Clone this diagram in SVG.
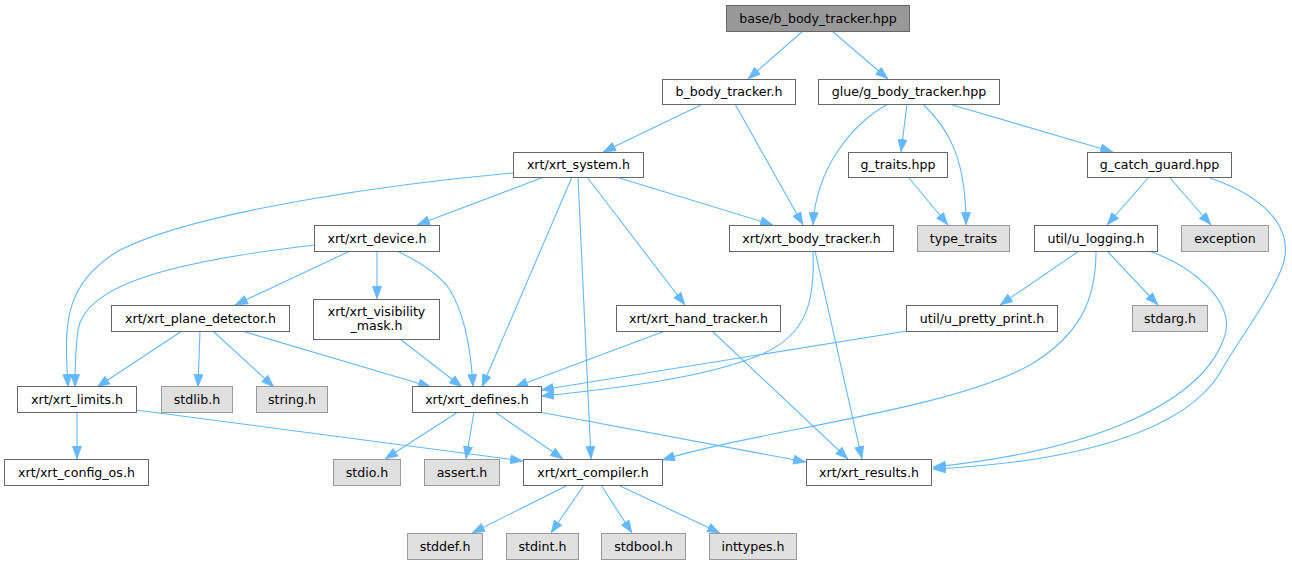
<svg xmlns="http://www.w3.org/2000/svg" width="1292" height="564" viewBox="0 0 1292 564">
<style>
.n rect{fill:#ffffff;stroke:#666666;stroke-width:1}
.s rect{fill:#e0e0e0;stroke:#999999;stroke-width:1}
.r rect{fill:#999999;stroke:#666666;stroke-width:1}
text{font-family:"DejaVu Sans",sans-serif;font-size:12.6px;fill:#000;text-anchor:middle}
#edges path{fill:none;stroke:#63b8ff;stroke-width:1.1;marker-end:url(#ah)}
</style>
<defs>
<marker id="ah" markerUnits="userSpaceOnUse" markerWidth="13" markerHeight="10" viewBox="0 0 13 10" refX="13" refY="5" orient="auto">
<path d="M0.5,0.5 L12.5,5 L0.5,9.5 z" fill="#63b8ff" stroke="#63b8ff" stroke-width="0.8"/>
</marker>
</defs>
<rect width="1292" height="564" fill="#ffffff"/>
<g id="edges">
<path d="M803,31 L748,79"/>
<path d="M832,31 L888,79"/>
<path d="M703,104 L603,152"/>
<path d="M735,104 L803,225"/>
<path d="M888,104 C850,125 816,170 813,225"/>
<path d="M907,104 L901,152"/>
<path d="M923,104 C950,130 966,160 966,225"/>
<path d="M949,104 L1113,152"/>
<path d="M513,173 C400,183 200,210 120,250 C60,285 65,330 68,387"/>
<path d="M544,177 L417,225"/>
<path d="M572,177 L482,387"/>
<path d="M578,177 L591,459"/>
<path d="M587,177 L685,305"/>
<path d="M616,177 L773,225"/>
<path d="M314,245 C170,262 85,285 78,330 C76,345 75,365 75,387"/>
<path d="M350,251 L235,305"/>
<path d="M377,251 L377,299"/>
<path d="M397,251 C420,262 440,275 450,290 C465,315 471,350 473,387"/>
<path d="M182,331 L97,387"/>
<path d="M200,331 L198,387"/>
<path d="M213,331 L274,387"/>
<path d="M242,331 L431,387"/>
<path d="M400,339 L462,387"/>
<path d="M665,331 L515,387"/>
<path d="M712,331 L848,459"/>
<path d="M813,251 C815,300 808,335 760,355 C700,380 600,390 541,396"/>
<path d="M815,251 L862,459"/>
<path d="M907,331 L541,390"/>
<path d="M1079,251 L1000,305"/>
<path d="M1107,251 L1158,305"/>
<path d="M1096,251 C1096,300 1080,335 1030,365 C950,410 760,430 662,460"/>
<path d="M1149,251 C1190,265 1235,300 1225,335 C1205,400 1100,450 933,467"/>
<path d="M1148,178 L1107,225"/>
<path d="M1170,178 L1211,225"/>
<path d="M1210,178 C1260,195 1295,225 1283,265 C1270,300 1235,345 1220,373 C1185,430 1080,462 933,469"/>
<path d="M909,178 L948,225"/>
<path d="M458,412 L385,459"/>
<path d="M474,412 L466,459"/>
<path d="M495,412 L563,459"/>
<path d="M539,412 L806,462"/>
<path d="M136,410 L523,461"/>
<path d="M77,412 L77,459"/>
<path d="M568,485 L472,533"/>
<path d="M584,485 L551,533"/>
<path d="M601,485 L632,533"/>
<path d="M618,485 L720,533"/>
</g>
<g id="node1" class="r"><rect x="726.5" y="5.5" width="183" height="26"/><text x="818" y="22.5">base/b_body_tracker.hpp</text></g>
<g id="node2" class="n"><rect x="662.5" y="79.5" width="133" height="25"/><text x="729" y="96">b_body_tracker.h</text></g>
<g id="node3" class="n"><rect x="818.5" y="79.5" width="181" height="25"/><text x="909" y="96">glue/g_body_tracker.hpp</text></g>
<g id="node4" class="n"><rect x="513.5" y="152.5" width="130" height="25"/><text x="578.5" y="169">xrt/xrt_system.h</text></g>
<g id="node5" class="n"><rect x="848.5" y="152.5" width="99" height="25"/><text x="898" y="169">g_traits.hpp</text></g>
<g id="node6" class="n"><rect x="1087.5" y="152.5" width="144" height="25"/><text x="1159.5" y="169">g_catch_guard.hpp</text></g>
<g id="node7" class="n"><rect x="314.5" y="225.5" width="125" height="26"/><text x="377" y="242.5">xrt/xrt_device.h</text></g>
<g id="node8" class="n"><rect x="729.5" y="225.5" width="164" height="26"/><text x="811.5" y="242.5">xrt/xrt_body_tracker.h</text></g>
<g id="node9" class="s"><rect x="917.5" y="225.5" width="92" height="26"/><text x="963.5" y="242.5">type_traits</text></g>
<g id="node10" class="n"><rect x="1034.5" y="225.5" width="123" height="26"/><text x="1096" y="242.5">util/u_logging.h</text></g>
<g id="node11" class="s"><rect x="1181.5" y="225.5" width="87" height="26"/><text x="1225" y="242.5">exception</text></g>
<g id="node12" class="n"><rect x="111.5" y="305.5" width="178" height="26"/><text x="200.5" y="322.5">xrt/xrt_plane_detector.h</text></g>
<g id="node13" class="n"><rect x="313.5" y="299.5" width="126" height="40"/><text x="376.5" y="315.5">xrt/xrt_visibility</text><text x="376.5" y="329.5">_mask.h</text></g>
<g id="node14" class="n"><rect x="616.5" y="305.5" width="164" height="26"/><text x="698.5" y="322.5">xrt/xrt_hand_tracker.h</text></g>
<g id="node15" class="n"><rect x="906.5" y="305.5" width="151" height="26"/><text x="982" y="322.5">util/u_pretty_print.h</text></g>
<g id="node16" class="s"><rect x="1132.5" y="305.5" width="75" height="26"/><text x="1170" y="322.5">stdarg.h</text></g>
<g id="node17" class="n"><rect x="17.5" y="386.5" width="119" height="26"/><text x="77" y="403.5">xrt/xrt_limits.h</text></g>
<g id="node18" class="s"><rect x="161.5" y="386.5" width="71" height="26"/><text x="197" y="403.5">stdlib.h</text></g>
<g id="node19" class="s"><rect x="256.5" y="386.5" width="71" height="26"/><text x="292" y="403.5">string.h</text></g>
<g id="node20" class="n"><rect x="412.5" y="386.5" width="129" height="26"/><text x="477" y="403.5">xrt/xrt_defines.h</text></g>
<g id="node21" class="n"><rect x="4.5" y="459.5" width="144" height="26"/><text x="76.5" y="476.5">xrt/xrt_config_os.h</text></g>
<g id="node22" class="s"><rect x="333.5" y="459.5" width="67" height="26"/><text x="367" y="476.5">stdio.h</text></g>
<g id="node23" class="s"><rect x="424.5" y="459.5" width="75" height="26"/><text x="462" y="476.5">assert.h</text></g>
<g id="node24" class="n"><rect x="523.5" y="459.5" width="139" height="26"/><text x="593" y="476.5">xrt/xrt_compiler.h</text></g>
<g id="node25" class="n"><rect x="806.5" y="459.5" width="125" height="26"/><text x="869" y="476.5">xrt/xrt_results.h</text></g>
<g id="node26" class="s"><rect x="407.5" y="533.5" width="75" height="26"/><text x="445" y="550.5">stddef.h</text></g>
<g id="node27" class="s"><rect x="506.5" y="533.5" width="72" height="26"/><text x="542.5" y="550.5">stdint.h</text></g>
<g id="node28" class="s"><rect x="601.5" y="533.5" width="84" height="26"/><text x="643.5" y="550.5">stdbool.h</text></g>
<g id="node29" class="s"><rect x="709.5" y="533.5" width="87" height="26"/><text x="753" y="550.5">inttypes.h</text></g>
</svg>
